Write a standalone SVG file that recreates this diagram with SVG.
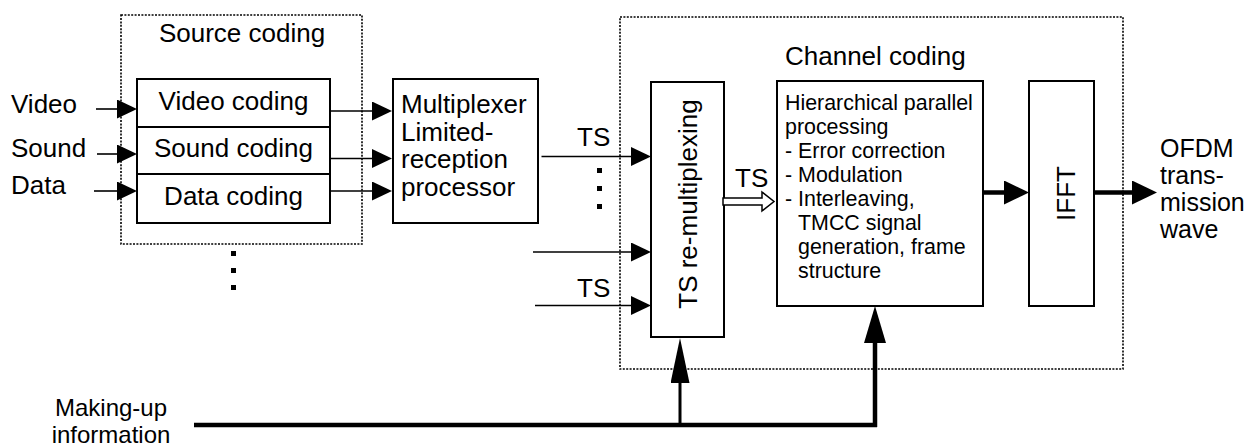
<svg xmlns="http://www.w3.org/2000/svg" width="1252" height="448" viewBox="0 0 1252 448">
<style>
text{font-family:"Liberation Sans",Arial,sans-serif;fill:#000}
.t26{font-size:26px}
.t25{font-size:25px}
.t24{font-size:24px}
.t21{font-size:21.4px}
.box{fill:#fff;stroke:#000;stroke-width:2}
.dot{fill:none;stroke:#000;stroke-width:1.6;stroke-dasharray:2 1.4}
.thin{fill:none;stroke:#000;stroke-width:1.6}
.mid{fill:none;stroke:#000;stroke-width:3}
.thick{fill:none;stroke:#000;stroke-width:4.5}
.sq{fill:#000}
</style>
<defs>
<marker id="ah" markerUnits="userSpaceOnUse" viewBox="0 0 20 19" refX="0" refY="9.5" markerWidth="20" markerHeight="19" orient="auto"><path d="M0,0 L20,9.5 L0,19 z" fill="#000"/></marker>
<marker id="ahT" markerUnits="userSpaceOnUse" viewBox="0 0 25 24" refX="0" refY="12" markerWidth="25" markerHeight="24" orient="auto"><path d="M0,0 L25,12 L0,24 z" fill="#000"/></marker>
<marker id="ahUpL" markerUnits="userSpaceOnUse" viewBox="0 0 45 19" refX="0" refY="9.5" markerWidth="45" markerHeight="19" orient="auto"><path d="M0,0 L45,9.5 L0,19 z" fill="#000"/></marker>
<marker id="ahUpR" markerUnits="userSpaceOnUse" viewBox="0 0 37 22" refX="0" refY="11" markerWidth="37" markerHeight="22" orient="auto"><path d="M0,0 L37,11 L0,22 z" fill="#000"/></marker>
</defs>

<g id="source-coding-group">
<rect class="dot" x="121" y="15" width="241" height="229"/>
<text class="t26" x="242" y="42" text-anchor="middle">Source coding</text>
</g>
<g id="video-coding"><rect class="box" x="137" y="79" width="193" height="48"/><text class="t26" x="233.5" y="110" text-anchor="middle">Video coding</text></g>
<g id="sound-coding"><rect class="box" x="137" y="127" width="193" height="47"/><text class="t26" x="233.5" y="157" text-anchor="middle">Sound coding</text></g>
<g id="data-coding"><rect class="box" x="137" y="174" width="193" height="49"/><text class="t26" x="233.5" y="205" text-anchor="middle">Data coding</text></g>

<g id="inputs">
<text class="t26" x="11" y="113">Video</text>
<text class="t26" x="11" y="157">Sound</text>
<text class="t26" x="11" y="194">Data</text>
</g>

<g id="multiplexer">
<rect class="box" x="393" y="79" width="145" height="144"/>
<text class="t26"><tspan x="401" y="113">Multiplexer</tspan><tspan x="401" y="140.5">Limited-</tspan><tspan x="401" y="168">reception</tspan><tspan x="401" y="195.5">processor</tspan></text>
</g>

<g id="channel-coding-group">
<rect class="dot" x="620" y="17" width="503" height="352"/>
<text class="t26" x="785" y="65">Channel coding</text>
</g>

<g id="ts-remux">
<rect class="box" x="651" y="82" width="73" height="255"/>
<text class="t26" transform="translate(697,204) rotate(-90)" text-anchor="middle">TS re-multiplexing</text>
</g>

<g id="hierarchical">
<rect class="box" x="777" y="81" width="206" height="225"/>
<text class="t21"><tspan x="785" y="110">Hierarchical parallel</tspan><tspan x="785" y="134">processing</tspan><tspan x="785" y="158">- Error correction</tspan><tspan x="785" y="182">- Modulation</tspan><tspan x="785" y="206">- Interleaving,</tspan><tspan x="798" y="230">TMCC signal</tspan><tspan x="798" y="254">generation, frame</tspan><tspan x="798" y="278">structure</tspan></text>
</g>

<g id="ifft">
<rect class="box" x="1029" y="81" width="65" height="225"/>
<text class="t26" transform="translate(1075,193.5) rotate(-90)" text-anchor="middle">IFFT</text>
</g>

<g id="output-label">
<text class="t25"><tspan x="1160" y="157">OFDM</tspan><tspan x="1160" y="184">trans-</tspan><tspan x="1160" y="211">mission</tspan><tspan x="1160" y="238">wave</tspan></text>
</g>

<g id="making-up-label">
<text class="t24" text-anchor="middle"><tspan x="111" y="416">Making-up</tspan><tspan x="111" y="443">information</tspan></text>
</g>

<g id="connectors">
<path class="thin" d="M96,109 H117" marker-end="url(#ah)"/>
<path class="thin" d="M97,154 H117" marker-end="url(#ah)"/>
<path class="thin" d="M94,191 H117" marker-end="url(#ah)"/>
<path class="thin" d="M330,111 H372" marker-end="url(#ah)"/>
<path class="thin" d="M330,158.5 H372" marker-end="url(#ah)"/>
<path class="thin" d="M330,191 H372" marker-end="url(#ah)"/>
<path class="thin" d="M541.5,156.5 H631" marker-end="url(#ah)"/>
<path class="thin" d="M533,252 H631" marker-end="url(#ah)"/>
<path class="thin" d="M535,305.5 H631" marker-end="url(#ah)"/>
<polygon points="723,198 762,198 762,192 774,201.5 762,211 762,205 723,205" fill="#fff" stroke="#000" stroke-width="1.5"/>
<path class="thick" d="M983,192.5 H1004" marker-end="url(#ahT)"/>
<path class="thick" d="M1094,192.5 H1132" marker-end="url(#ahT)"/>
<path class="thick" d="M194,425 H877"/>
<path class="mid" d="M680,425 V383" marker-end="url(#ahUpL)"/>
<path class="thick" d="M875,427 V343" marker-end="url(#ahUpR)"/>
<text class="t26" x="577" y="146">TS</text>
<text class="t26" x="577" y="297">TS</text>
<text class="t26" x="735" y="187">TS</text>
<rect class="sq" x="597" y="168" width="5" height="5"/>
<rect class="sq" x="597" y="186" width="5" height="5"/>
<rect class="sq" x="597" y="204" width="5" height="5"/>
<rect class="sq" x="231" y="251" width="5" height="5"/>
<rect class="sq" x="231" y="268" width="5" height="5"/>
<rect class="sq" x="231" y="285" width="5" height="5"/>
</g>
</svg>
